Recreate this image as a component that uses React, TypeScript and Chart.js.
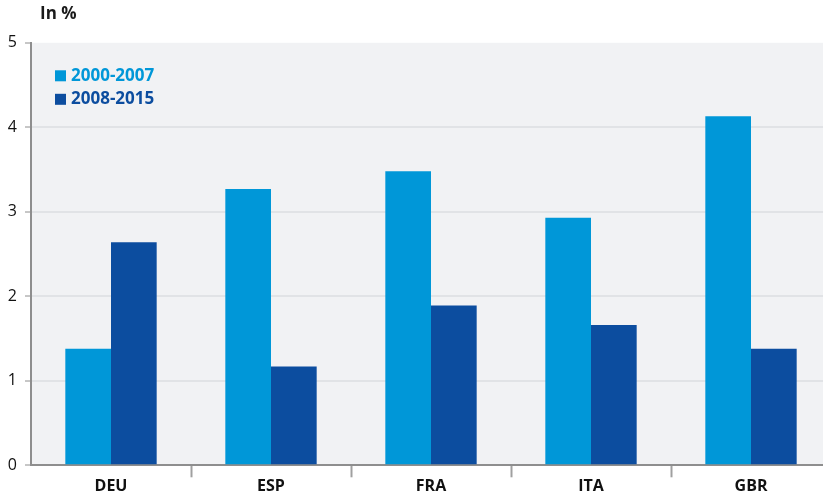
import React, { useEffect, useRef } from "react";
import { Chart, registerables } from "chart.js";

Chart.register(...registerables);

const categories = ["DEU", "ESP", "FRA", "ITA", "GBR"];
const series2000to2007 = [1.38, 3.27, 3.48, 2.93, 4.13];
const series2008to2015 = [2.64, 1.17, 1.89, 1.66, 1.38];
const seriesLabels = ["2000-2007", "2008-2015"];
const yTickValues = [0, 1, 2, 3, 4, 5];
const unitLabel = "In %";

const LIGHT = "#0097d8";
const DARK = "#0c4d9f";
const AXIS = "#8e8e8e";
const FONT = "'Open Sans', 'Noto Sans', sans-serif";

const decorPlugin = {
  id: "decor",
  beforeDraw(chart: any) {
    const { ctx, chartArea } = chart;
    ctx.save();
    ctx.fillStyle = "#f1f2f4";
    ctx.fillRect(chartArea.left, chartArea.top, chartArea.right - chartArea.left, chartArea.bottom - chartArea.top);
    ctx.restore();
  },
  afterDraw(chart: any) {
    const { ctx, chartArea } = chart;
    ctx.save();
    ctx.font = `bold 17px ${FONT}`;
    ctx.fillStyle = "#1a1a1a";
    ctx.textBaseline = "middle";
    ctx.textAlign = "left";
    ctx.fillText(unitLabel, 40, 14);
    chart.data.datasets.forEach((ds: any, i: number) => {
      const x = chartArea.left + 24;
      const yc = chartArea.top + 33 + i * 23.5;
      ctx.fillStyle = ds.backgroundColor;
      ctx.fillRect(x, yc - 5.5, 11, 11);
      ctx.font = `bold 17px ${FONT}`;
      ctx.fillText(ds.label, x + 16, yc);
    });
    ctx.restore();
  },
};

export default function App() {
  const ref = useRef<HTMLCanvasElement | null>(null);

  useEffect(() => {
    if (!ref.current) return;
    const chart = new Chart(ref.current, {
      type: "bar",
      data: {
        labels: categories,
        datasets: [
          { label: seriesLabels[0], data: series2000to2007, backgroundColor: LIGHT, borderWidth: 0 },
          { label: seriesLabels[1], data: series2008to2015, backgroundColor: DARK, borderWidth: 0 },
        ],
      },
      options: {
        responsive: false,
        animation: false,
        layout: { padding: { top: 42.8, left: 0, right: 0, bottom: 0 } },
        datasets: { bar: { categoryPercentage: 0.571, barPercentage: 1 } },
        plugins: { legend: { display: false }, tooltip: { enabled: false }, title: { display: false } },
        scales: {
          x: {
            offset: true,
            afterFit: (s: any) => {
              s.height = 28.7;
            },
            grid: {
              display: true,
              drawOnChartArea: false,
              drawTicks: true,
              offset: true,
              tickLength: 12,
              tickWidth: 2,
              tickColor: (c: any) => (c.index === 0 ? "rgba(0,0,0,0)" : "#a0a0a0"),
            },
            border: { display: true, color: AXIS, width: 2 },
            ticks: {
              padding: 0,
              color: "#111111",
              font: { family: FONT, size: 16, weight: "bold" },
            },
          },
          y: {
            min: 0,
            max: 5,
            afterFit: (s: any) => {
              s.width = 31;
            },
            afterBuildTicks: (s: any) => {
              s.ticks = yTickValues.map((v) => ({ value: v }));
            },
            grid: {
              color: (c: any) =>
                c.tick && (c.tick.value === 0 || c.tick.value === 5) ? "rgba(0,0,0,0)" : "#e1e3e6",
              lineWidth: 2,
              drawTicks: true,
              tickLength: 6,
              tickWidth: 1,
              tickColor: AXIS,
            },
            border: { display: true, color: AXIS, width: 2 },
            ticks: {
              padding: 8,
              color: "#111111",
              font: { family: FONT, size: 16 },
            },
          },
        },
      },
      plugins: [decorPlugin],
    } as any);
    return () => chart.destroy();
  }, []);

  return (
    <div style={{ position: "absolute", left: 0, top: 0, width: 823, height: 494, overflow: "hidden", background: "#fff" }}>
      <div style={{ width: 831, height: 494 }}>
        <canvas ref={ref} width={831} height={494} style={{ width: 831, height: 494, display: "block" }} />
      </div>
    </div>
  );
}
